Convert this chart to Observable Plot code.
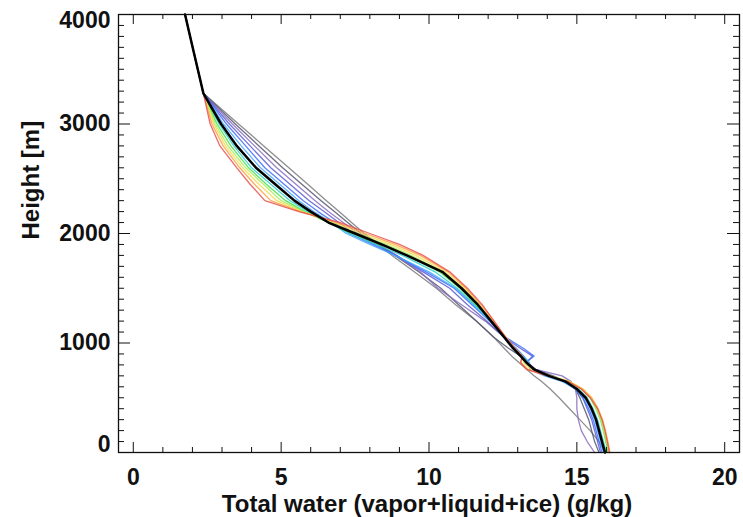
<!DOCTYPE html>
<html>
<head>
<meta charset="utf-8">
<script src="https://cdn.jsdelivr.net/npm/d3@7"></script>
<script src="https://cdn.jsdelivr.net/npm/@observablehq/plot@0.6"></script>
<style>
  html, body { margin: 0; padding: 0; background: #fff; }
  #chart svg { display: block; }
</style>
</head>
<body>
<div id="chart"></div>
<script>
// Heights (m) shared by all profiles
const heights = [4000, 3650, 3280, 3000, 2800, 2600, 2450, 2300, 2200, 2100, 2000, 1900, 1800, 1650, 1500, 1350, 1200, 1050, 950, 880, 820, 760, 700, 650, 580, 500, 400, 300, 200, 100, 0];

// Total water (g/kg) for each profile
const gray      = [1.75,2.05,2.37,3.56,4.41,5.26,5.90,6.53,6.96,7.38,7.81,8.30,8.75,9.50,10.25,10.90,11.60,12.20,12.55,12.80,13.05,13.30,13.55,13.80,14.10,14.40,14.75,15.10,15.45,15.75,15.95];
const darkSlate = [1.75,2.05,2.37,3.45,4.25,5.05,5.70,6.35,6.80,7.25,7.70,8.30,8.85,9.65,10.40,11.00,11.60,12.20,12.70,13.10,13.30,13.60,14.20,14.60,14.95,15.10,15.25,15.40,15.50,15.60,15.75];
const purple    = [1.75,2.05,2.37,3.35,4.10,4.85,5.50,6.15,6.60,7.10,7.60,8.30,8.90,9.70,10.30,11.10,11.90,12.55,12.95,13.20,13.35,13.60,14.50,14.80,14.95,15.00,15.00,15.05,15.15,15.35,15.60];
const slateBlue = [1.75,2.05,2.37,3.25,3.95,4.65,5.30,5.95,6.45,6.95,7.45,8.20,8.90,9.80,10.70,11.30,11.95,12.55,13.10,13.50,13.30,13.60,14.10,14.60,14.95,15.20,15.35,15.50,15.60,15.70,15.80];
const blue      = [1.75,2.05,2.37,3.15,3.80,4.45,5.10,5.75,6.25,6.80,7.30,8.10,8.85,9.90,10.85,11.45,12.05,12.60,13.20,13.55,13.25,13.55,14.00,14.55,14.95,15.20,15.40,15.55,15.65,15.75,15.85];
const sky       = [1.75,2.05,2.37,3.05,3.65,4.30,4.95,5.60,6.10,6.70,7.20,8.00,8.85,10.00,10.90,11.50,12.05,12.55,12.95,13.20,13.40,13.40,13.90,14.50,14.95,15.25,15.45,15.60,15.70,15.80,15.90];
const cyan      = [1.75,2.05,2.37,2.90,3.40,4.00,4.65,5.30,5.90,6.60,7.30,8.20,9.10,10.20,10.95,11.55,12.10,12.55,12.90,13.15,13.35,13.50,14.00,14.60,15.05,15.35,15.55,15.70,15.80,15.90,16.00];
const green     = [1.75,2.05,2.37,2.83,3.30,3.90,4.50,5.15,5.80,6.60,7.40,8.35,9.25,10.35,11.05,11.60,12.10,12.55,12.85,13.10,13.30,13.50,14.10,14.70,15.15,15.45,15.65,15.80,15.90,15.98,16.05];
const yGreen    = [1.75,2.05,2.37,2.77,3.20,3.80,4.40,5.00,5.75,6.70,7.55,8.55,9.40,10.45,11.15,11.65,12.15,12.60,12.90,13.10,13.25,13.50,14.10,14.75,15.20,15.45,15.65,15.80,15.90,16.00,16.08];
const yellow    = [1.75,2.05,2.37,2.72,3.12,3.70,4.25,4.85,5.70,6.80,7.70,8.70,9.55,10.55,11.20,11.70,12.15,12.60,12.90,13.15,13.20,13.45,14.10,14.75,15.20,15.50,15.70,15.85,15.95,16.03,16.10];
const orange    = [1.75,2.05,2.37,2.66,3.04,3.60,4.10,4.65,5.65,6.90,7.85,8.85,9.70,10.65,11.25,11.75,12.20,12.60,12.90,13.15,13.10,13.35,14.00,14.70,15.20,15.50,15.72,15.87,15.97,16.05,16.12];
const red       = [1.75,2.05,2.37,2.60,2.93,3.50,3.95,4.45,5.60,7.00,8.00,9.00,9.80,10.70,11.30,11.80,12.20,12.60,12.90,13.15,13.10,13.30,14.00,14.70,15.15,15.45,15.70,15.85,15.95,16.03,16.10];
const black     = [1.75,2.05,2.37,2.97,3.50,4.15,4.80,5.45,6.00,6.60,7.50,8.40,9.25,10.45,11.10,11.65,12.10,12.55,12.85,13.10,13.30,13.55,14.05,14.60,15.00,15.30,15.50,15.65,15.75,15.85,15.95];

// Tick values and labels
const xTicks = [0, 5, 10, 15, 20];
const xTickLabels = ["0", "5", "10", "15", "20"];
const yTicks = [0, 1000, 2000, 3000, 4000];
const yTickLabels = ["0", "1000", "2000", "3000", "4000"];
const xTitle = "Total water (vapor+liquid+ice) (g/kg)";
const yTitle = "Height [m]";

// Series order and styling (kept apart from the data)
const seriesNames  = ["gray","darkSlate","purple","slateBlue","blue","sky","cyan","green","yGreen","yellow","orange","red"];
const seriesValues = [gray, darkSlate, purple, slateBlue, blue, sky, cyan, green, yGreen, yellow, orange, red];
const seriesColors = ["#7a7a7a","#55556e","#8a6cc0","#5a5ad0","#3f6cff","#45a8ff","#2ad0c8","#45e045","#a8ec5a","#f2dc50","#ffa040","#e85050"];

const lines = [];
seriesNames.forEach((name, i) => {
  heights.forEach((h, j) => lines.push({series: name, h, w: seriesValues[i][j]}));
});
const blackLine = heights.map((h, j) => ({h, w: black[j]}));

const W = 743, H = 517;
const mL = 118, mR = 4, mT = 14, mB = 65;
const innerW = W - mL - mR, innerH = H - mT - mB;

const xMinor = d3.range(1, 20).filter(v => v % 5 !== 0);
const yMinor = d3.range(100, 4000, 100).filter(v => v % 1000 !== 0);

const font = "'Liberation Sans', Arial, Helvetica, sans-serif";
const txt = {fontSize: 23, fontWeight: "bold", fill: "#111"};

const chart = Plot.plot({
  width: W, height: H,
  marginLeft: mL, marginRight: mR, marginTop: mT, marginBottom: mB,
  x: {domain: [-0.5, 20.5], axis: null},
  y: {domain: [0, 4000], axis: null},
  color: {domain: seriesNames, range: seriesColors},
  style: {fontFamily: font, background: "#fff", overflow: "visible"},
  marks: [
    Plot.line(lines, {x: "w", y: "h", z: "series", stroke: "series", strokeWidth: 1.3, strokeOpacity: 0.85}),
    Plot.line(blackLine, {x: "w", y: "h", stroke: "#000", strokeWidth: 2.5}),
    // ticks: bottom / top
    Plot.tickX(xTicks, {x: d => d, insetTop: innerH - 10, stroke: "#111"}),
    Plot.tickX(xMinor, {x: d => d, insetTop: innerH - 5, stroke: "#111"}),
    Plot.tickX(xTicks, {x: d => d, insetBottom: innerH - 10, stroke: "#111"}),
    Plot.tickX(xMinor, {x: d => d, insetBottom: innerH - 5, stroke: "#111"}),
    // ticks: left / right
    Plot.tickY(yTicks, {y: d => d, insetRight: innerW - 12, stroke: "#111"}),
    Plot.tickY(yMinor, {y: d => d, insetRight: innerW - 6, stroke: "#111"}),
    Plot.tickY(yTicks, {y: d => d, insetLeft: innerW - 12, stroke: "#111"}),
    Plot.tickY(yMinor, {y: d => d, insetLeft: innerW - 6, stroke: "#111"}),
    Plot.frame({stroke: "#111", strokeWidth: 1.3}),
    // x tick labels
    Plot.text(xTicks, {x: d => d, text: (d, i) => xTickLabels[i], frameAnchor: "bottom", lineAnchor: "top", dy: 16, ...txt}),
    // y tick labels (the end labels sit inside the frame edge)
    Plot.text(yTicks.slice(1, 4), {y: d => d, text: (d, i) => yTickLabels[i + 1], frameAnchor: "left", textAnchor: "end", dx: -8, ...txt}),
    Plot.text([yTicks[0]], {y: d => d, text: () => yTickLabels[0], frameAnchor: "left", textAnchor: "end", dx: -8, dy: -8, ...txt}),
    Plot.text([yTicks[4]], {y: d => d, text: () => yTickLabels[4], frameAnchor: "left", textAnchor: "end", dx: -8, dy: 6, ...txt}),
    // axis titles
    Plot.text([xTitle], {text: d => d, frameAnchor: "bottom", lineAnchor: "top", dy: 42, dx: -2, fontSize: 24, fontWeight: "bold", fill: "#111"}),
    Plot.text([yTitle], {text: d => d, frameAnchor: "left", rotate: -90, dx: -87, dy: 6, fontSize: 24, fontWeight: "bold", fill: "#111"})
  ]
});
document.getElementById("chart").appendChild(chart);
</script>
</body>
</html>
